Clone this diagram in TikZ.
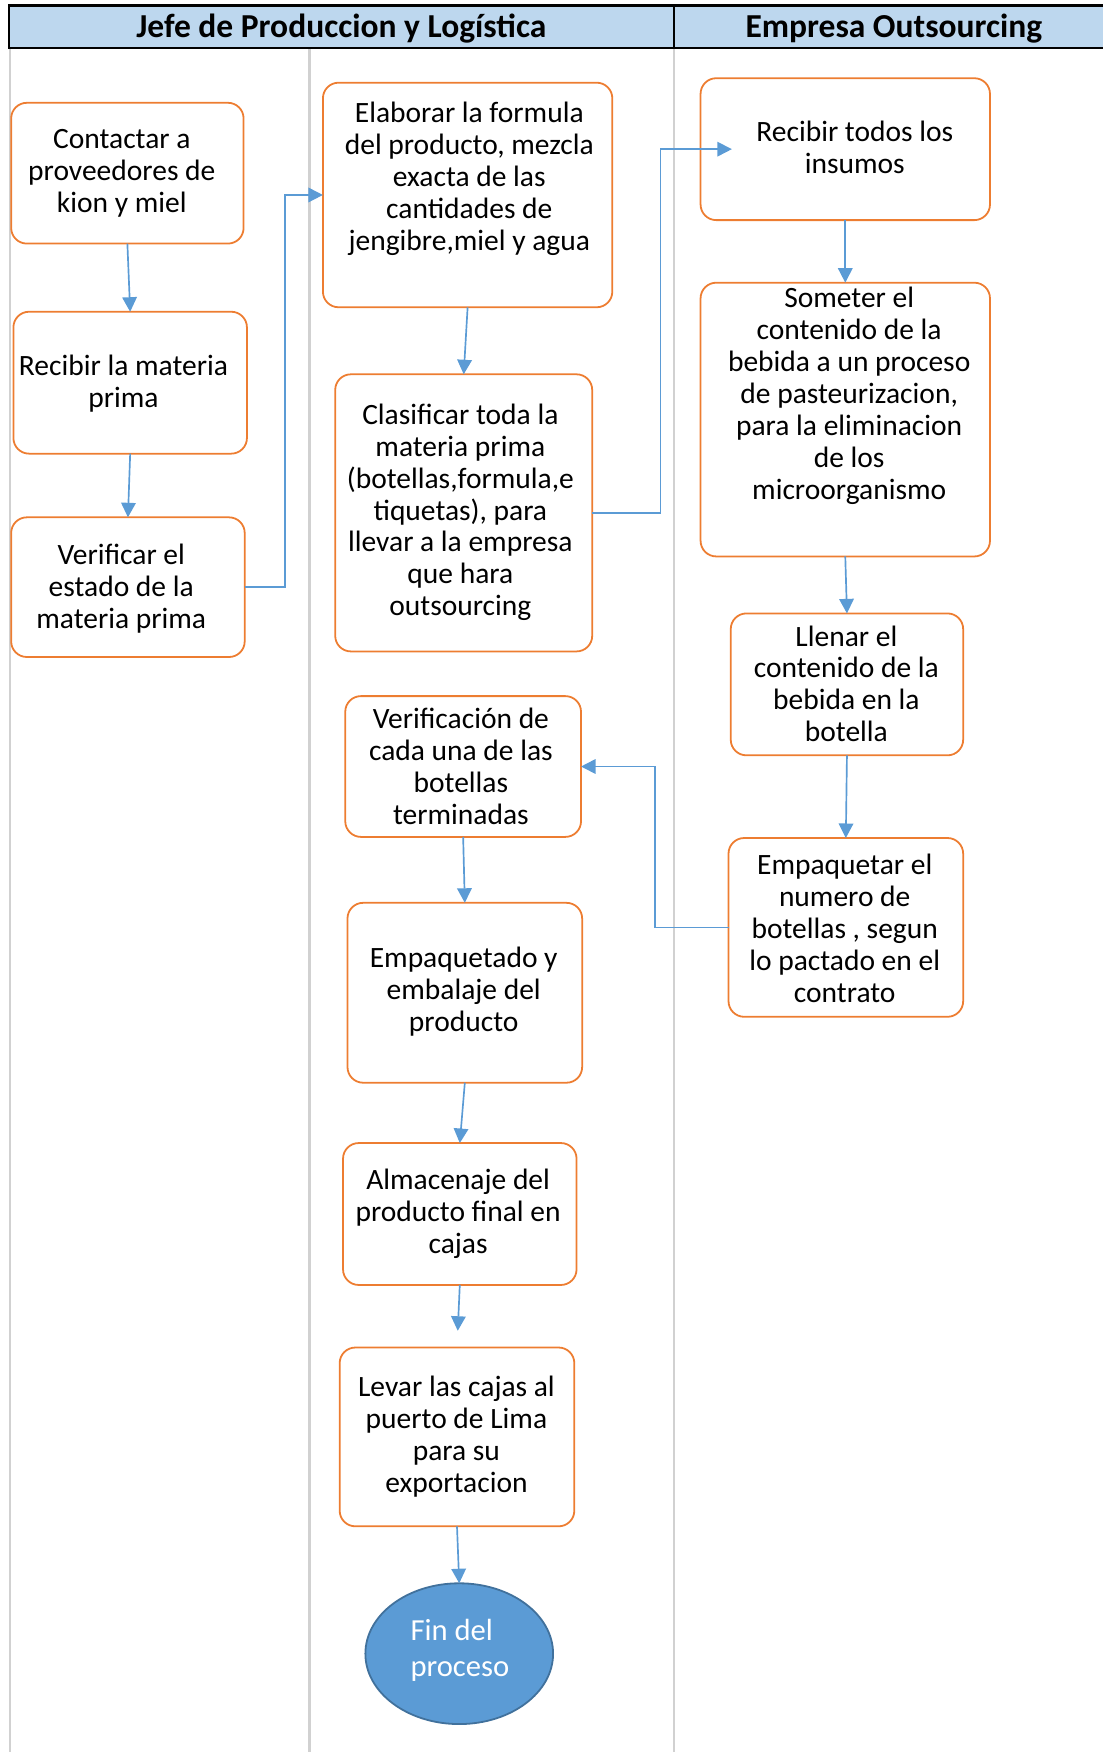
\documentclass[tikz,border=0pt]{standalone}
\usepackage{fontspec}
\setmainfont{Carlito}
\usetikzlibrary{arrows.meta,shapes.geometric}
\definecolor{orng}{HTML}{ED7D31}
\definecolor{blu}{HTML}{5B9BD5}
\definecolor{hdr}{HTML}{BDD7EE}
\definecolor{finedge}{HTML}{41719C}
\begin{document}
\begin{tikzpicture}[x=0.5pt,y=-0.5pt,
  box/.style={draw=orng, line width=0.8pt, rounded corners=7pt, inner sep=0pt, outer sep=0pt},
  txt/.style={align=center, font=\fontsize{13.2}{14.3}\selectfont, inner sep=0pt},
  hd/.style={font=\fontsize{15}{17}\selectfont\bfseries, inner sep=0pt},
  arr/.style={draw=blu, line width=0.75pt, -{Triangle[length=6.5pt,width=6.5pt]}},
  lane/.style={draw=black!18, line width=1pt}]
\useasboundingbox (0,0) rectangle (987,1568);
% lanes
\draw[lane] (9,43) -- (9,1568);
\draw[lane] (277,43) -- (277,1568);
\draw[lane] (603,43) -- (603,1568);
% header
\draw[fill=hdr, line width=1pt] (8,5) rectangle (1000,43);
\draw[line width=1pt] (603,5) -- (603,43);
\node[hd] (h1) at (305.5,26) {Jefe de Produccion y Logística};
\node[hd] (h2) at (800,26) {Empresa Outsourcing};
% boxes lane 1
\node[box, minimum width=104pt, minimum height=63pt] (c1) at (114,155) {};
\node[box, minimum width=104.5pt, minimum height=63.5pt] (c2) at (116.5,342.5) {};
\node[box, minimum width=104.5pt, minimum height=62.5pt] (c3) at (114.5,525.5) {};
% boxes lane 2
\node[box, minimum width=129.5pt, minimum height=100.5pt] (m1) at (418.5,174.5) {};
\node[box, minimum width=115pt, minimum height=124pt] (m2) at (415,459) {};
\node[box, minimum width=105.5pt, minimum height=63pt] (m3) at (414.5,686) {};
\node[box, minimum width=105pt, minimum height=80.5pt] (m4) at (416,888.5) {};
\node[box, minimum width=104.5pt, minimum height=63.5pt] (m5) at (411.5,1086.5) {};
\node[box, minimum width=105pt, minimum height=80pt] (m6) at (409,1286) {};
\node[ellipse, draw=finedge, fill=blu, line width=0.8pt, minimum width=84pt, minimum height=63pt, inner sep=0pt, outer sep=0pt] (fin) at (411,1480) {};
% boxes lane 3
\node[box, minimum width=129.5pt, minimum height=63.5pt] (r1) at (756.5,133.5) {};
\node[box, minimum width=129.5pt, minimum height=122.5pt] (r2) at (756.5,375.5) {};
\node[box, minimum width=104pt, minimum height=63.5pt] (r3) at (758,612.5) {};
\node[box, minimum width=105pt, minimum height=80pt] (r4) at (757,830) {};
% texts
\node[txt] (t1) at (109,155) {Contactar a\\proveedores de\\kion y miel};
\node[txt] (t2) at (110.5,343) {Recibir la materia\\prima};
\node[txt] (t3) at (108.5,526.5) {Verificar el\\estado de la\\materia prima};
\node[txt] (t4) at (420,160) {Elaborar la formula\\del producto, mezcla\\exacta de las\\cantidades de\\jengibre,miel y agua};
\node[txt] (t5) at (412,458.5) {Clasificar toda la\\materia prima\\(botellas,formula,e\\tiquetas), para\\llevar a la empresa\\que hara\\outsourcing};
\node[txt] (t6) at (765,132) {Recibir  todos los\\insumos};
\node[txt] (t7) at (760,354.5) {Someter el\\contenido de la\\bebida a un proceso\\de pasteurizacion,\\para la eliminacion\\de los\\microorganismo};
\node[txt] (t8) at (757.5,612) {Llenar el\\contenido de la\\bebida en la\\botella};
\node[txt] (t9) at (412.5,685.5) {Verificación de\\cada una de las\\botellas\\terminadas};
\node[txt] (t10) at (415,887.5) {Empaquetado y\\embalaje del\\producto};
\node[txt] (t11) at (756,830.5) {Empaquetar el\\numero de\\botellas , segun\\lo pactado en el\\contrato};
\node[txt] (t12) at (410,1086) {Almacenaje del\\producto final en\\cajas};
\node[txt] (t13) at (408.5,1286) {Levar las cajas al\\puerto de Lima\\para su\\exportacion};
\node[txt, align=left, text=white, font=\fontsize{13.7}{16.5}\selectfont, anchor=west] (t14) at (367,1477) {Fin del\\proceso};
% connectors
\draw[arr] (c1.south) -- (c2.north);
\draw[arr] (c2.south) -- (c3.north);
\draw[arr] (c3.east) -- ++(36,0) |- (m1.west);
\draw[arr] (m1.south) -- (m2.north);
\draw[arr, shorten >=-14pt] (m2.east) -- ++(61,0) |- (r1.west);
\draw[arr] (r1.south) -- (r2.north);
\draw[arr] (r2.south) -- (r3.north);
\draw[arr] (r3.south) -- (r4.north);
\draw[arr] (r4.west) -- ++(-66,0) |- (m3.east);
\draw[arr] (m3.south) -- (m4.north);
\draw[arr] (m4.south) -- (m5.north);
\draw[arr, shorten >=7.5pt] (m5.south) -- (m6.north);
\draw[arr] (m6.south) -- (fin.north);
\end{tikzpicture}
\end{document}
